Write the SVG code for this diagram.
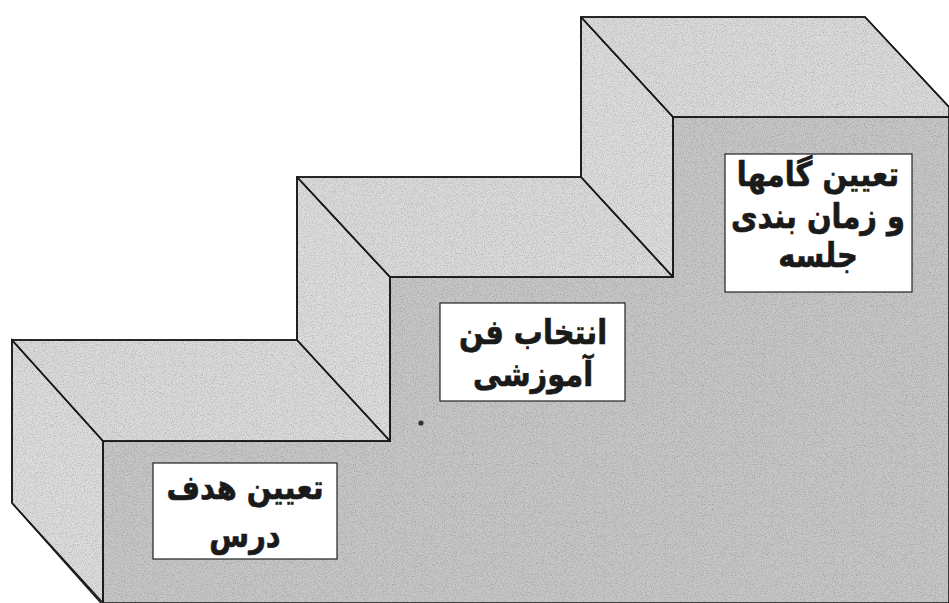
<svg xmlns="http://www.w3.org/2000/svg" width="949" height="603" viewBox="0 0 949 603">
<defs>
<style>
.top{fill:#dadada;stroke:#1a1a1a;stroke-width:1.6;stroke-linejoin:round}
.side{fill:#dcdcdc;stroke:#1a1a1a;stroke-width:1.6;stroke-linejoin:round}
.front{fill:#c6c6c6;stroke:#1a1a1a;stroke-width:1.6;stroke-linejoin:round}
.box{fill:#ffffff;stroke:#222;stroke-width:1.2}
.lbl{font-family:"DejaVu Sans",sans-serif;font-weight:bold;font-size:34px;fill:#1a1a1a;stroke:#1a1a1a;stroke-width:0.7;text-anchor:middle;direction:rtl}
</style>
<filter id="grain" x="0" y="0" width="100%" height="100%">
<feTurbulence type="fractalNoise" baseFrequency="0.9" numOctaves="2" seed="3" result="n"/>
<feColorMatrix in="n" type="matrix" values="0 0 0 0 0  0 0 0 0 0  0 0 0 0 0  0 0 0 -2 1.1" result="a"/>
<feComposite in="a" in2="SourceGraphic" operator="in"/>
</filter>
<clipPath id="stairs">
<polygon points="12,340 297,340 297,177 581,177 581,17 865,17 949,107 949,603 103,603 12,503"/>
</clipPath>
</defs>
<rect width="949" height="603" fill="#ffffff"/>
<g id="stair-faces">
<polygon class="front" points="103,441 390,441 390,277 673,277 673,117 949,117 949,603 103,603"/>
<polygon class="side" points="12,340 103,441 103,603 12,503"/>
<polygon class="top" points="12,340 297,340 390,441 103,441"/>
<polygon class="side" points="297,177 390,277 390,441 297,340"/>
<polygon class="top" points="297,177 581,177 673,277 390,277"/>
<polygon class="side" points="581,17 673,117 673,277 581,177"/>
<polygon class="top" points="581,17 865,17 949,107 949,117 673,117"/>
</g>
<g id="texture" clip-path="url(#stairs)" opacity="0.22">
<rect width="949" height="603" fill="#000" filter="url(#grain)"/>
</g>
<g id="edges" fill="none" stroke="#1a1a1a" stroke-width="1.6">
<polyline points="12,340 297,340 297,177 581,177 581,17 865,17 949,107"/>
<polyline points="12,503 12,340 103,441 103,603"/>
<polyline points="12,503 101,603"/>
<polyline points="103,441 390,441 390,277 673,277 673,117 949,117"/>
<line x1="297" y1="177" x2="390" y2="277"/>
<line x1="581" y1="17" x2="673" y2="117"/>
<line x1="297" y1="340" x2="390" y2="441"/>
<line x1="581" y1="177" x2="673" y2="277"/>
</g>
<circle cx="421" cy="423" r="2.6" fill="#333"/>
<g id="node-1">
<rect class="box" x="153" y="463" width="184" height="96"/>
<text class="lbl" transform="translate(245,499) scale(0.85,1)">تعیین هدف</text>
<text class="lbl" transform="translate(245,547) scale(0.85,1)">درس</text>
</g>
<g id="node-2">
<rect class="box" x="440" y="303" width="185" height="98"/>
<text class="lbl" transform="translate(533,344) scale(0.85,1)">انتخاب فن</text>
<text class="lbl" transform="translate(533,386) scale(0.85,1)">آموزشی</text>
</g>
<g id="node-3">
<rect class="box" x="725" y="154" width="187" height="138"/>
<text class="lbl" transform="translate(818,186) scale(0.85,1)">تعیین گامها</text>
<text class="lbl" transform="translate(818,228) scale(0.85,1)">و زمان بندی</text>
<text class="lbl" transform="translate(818,267) scale(0.85,1)">جلسه</text>
</g>
</svg>
